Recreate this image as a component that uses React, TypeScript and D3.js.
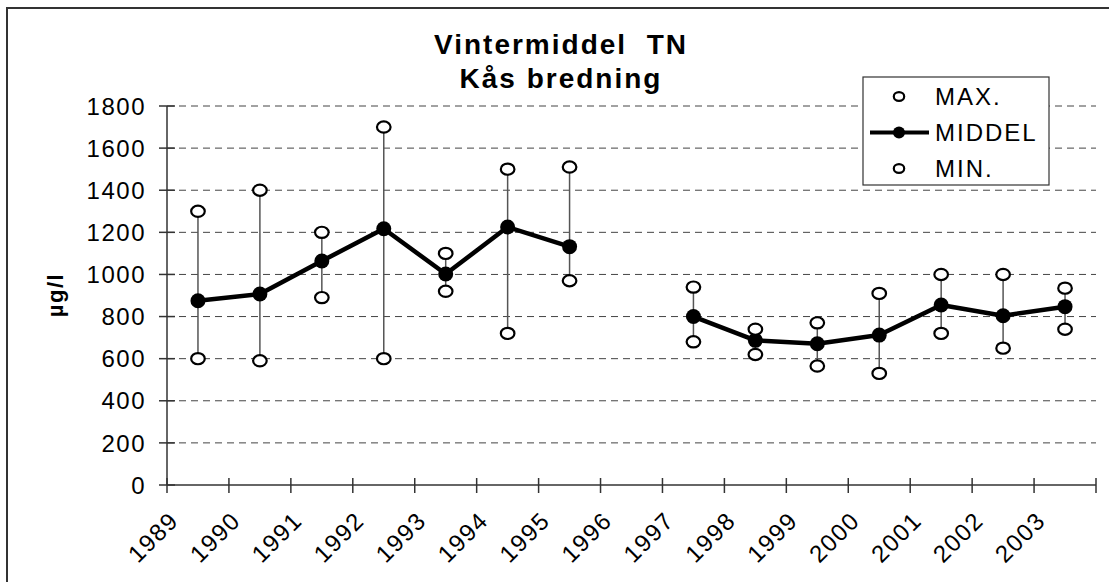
import React from "react";
import * as d3 from "d3";

const years = ["1989", "1990", "1991", "1992", "1993", "1994", "1995", "1996", "1997", "1998", "1999", "2000", "2001", "2002", "2003"];
const maxVals: (number | null)[] = [1300, 1400, 1200, 1700, 1100, 1500, 1510, null, 940, 740, 770, 910, 1000, 1000, 935];
const meanVals: (number | null)[] = [875, 907, 1064, 1217, 1002, 1225, 1132, null, 800, 687, 671, 712, 855, 804, 847];
const minVals: (number | null)[] = [600, 590, 890, 600, 920, 720, 970, null, 680, 620, 565, 530, 720, 650, 740];
const yTicks = [0, 200, 400, 600, 800, 1000, 1200, 1400, 1600, 1800];
const legendItems = ["MAX.", "MIDDEL", "MIN."];
const titleLines = ["Vintermiddel  TN", "Kås bredning"];
const yLabel = "µg/l";

const W = 1109;
const H = 582;
const FONT = "'Liberation Sans', Arial, sans-serif";

export default function App() {
  const x = d3.scaleBand<string>().domain(years).range([167, 1096]).padding(0);
  const y = d3.scaleLinear().domain([0, 1800]).range([485, 106]);
  const cx = (yr: string) => (x(yr) as number) + x.bandwidth() / 2;

  const line = d3
    .line<number | null>()
    .defined((d) => d != null)
    .x((_, i) => cx(years[i]))
    .y((d) => y(d as number));

  const boundaries = years.map((yr) => x(yr) as number).concat([1096]);

  return (
    <div style={{ position: "absolute", left: 0, top: 0 }}>
      <svg width={W} height={H} style={{ display: "block", background: "#fff" }} fontFamily={FONT}>
        <rect x={7} y={8} width={W + 20} height={H + 20} fill="#fff" stroke="#333" strokeWidth={2} />

        {/* gridlines */}
        {yTicks.filter((t) => t > 0).map((t) => (
          <line key={"g" + t} x1={167} x2={1096} y1={y(t)} y2={y(t)} stroke="#444" strokeWidth={1} strokeDasharray="7,5" />
        ))}

        {/* axes */}
        <line x1={167} x2={167} y1={y(1800)} y2={y(0)} stroke="#333" strokeWidth={1.5} />
        <line x1={167} x2={1096} y1={y(0)} y2={y(0)} stroke="#333" strokeWidth={1.5} />
        {yTicks.map((t) => (
          <g key={"yt" + t}>
            <line x1={159} x2={175} y1={y(t)} y2={y(t)} stroke="#333" strokeWidth={1.5} />
            <text x={146} y={y(t)} dy="0.36em" textAnchor="end" fontSize={24} letterSpacing={1.5} fill="#000">
              {t}
            </text>
          </g>
        ))}
        {boundaries.map((b, i) => (
          <line key={"xt" + i} x1={b} x2={b} y1={478} y2={493} stroke="#333" strokeWidth={1.5} />
        ))}
        {years.map((yr) => (
          <text
            key={"xl" + yr}
            transform={`translate(${cx(yr) - 18},${522}) rotate(-45)`}
            textAnchor="end"
            fontSize={24}
            letterSpacing={1.5}
            fill="#000"
          >
            {yr}
          </text>
        ))}

        {/* y label */}
        <text
          transform={`translate(63,295) rotate(-90)`}
          textAnchor="middle"
          fontSize={22}
          fontWeight="bold"
          letterSpacing={1.5}
          fill="#000"
        >
          {yLabel}
        </text>

        {/* title */}
        {titleLines.map((t, i) => (
          <text
            key={"t" + i}
            x={561}
            y={54 + i * 33.5}
            textAnchor="middle"
            fontSize={28}
            fontWeight="bold"
            letterSpacing={2}
            fill="#000"
            style={{ whiteSpace: "pre" }}
          >
            {t}
          </text>
        ))}

        {/* range lines */}
        {years.map((yr, i) =>
          maxVals[i] != null && minVals[i] != null ? (
            <line key={"r" + yr} x1={cx(yr)} x2={cx(yr)} y1={y(maxVals[i] as number)} y2={y(minVals[i] as number)} stroke="#555" strokeWidth={1.5} />
          ) : null
        )}

        {/* mean line */}
        <path d={line(meanVals) || ""} fill="none" stroke="#000" strokeWidth={4.5} strokeLinejoin="round" />
        {years.map((yr, i) =>
          meanVals[i] != null ? <circle key={"m" + yr} cx={cx(yr)} cy={y(meanVals[i] as number)} r={7.5} fill="#000" /> : null
        )}
        {years.map((yr, i) =>
          maxVals[i] != null ? (
            <ellipse key={"mx" + yr} cx={cx(yr)} cy={y(maxVals[i] as number)} rx={6.8} ry={5.6} fill="#fff" stroke="#000" strokeWidth={2.2} />
          ) : null
        )}
        {years.map((yr, i) =>
          minVals[i] != null ? (
            <ellipse key={"mn" + yr} cx={cx(yr)} cy={y(minVals[i] as number)} rx={6.8} ry={5.6} fill="#fff" stroke="#000" strokeWidth={2.2} />
          ) : null
        )}

        {/* legend */}
        <g>
          <rect x={863} y={77} width={186} height={108} fill="#fff" stroke="#333" strokeWidth={1.2} />
          {legendItems.map((name, i) => {
            const ly = 96.5 + i * 36;
            return (
              <g key={"lg" + name}>
                {i === 1 ? (
                  <>
                    <line x1={870} x2={929} y1={ly} y2={ly} stroke="#000" strokeWidth={4} />
                    <circle cx={899} cy={ly} r={6} fill="#000" />
                  </>
                ) : (
                  <ellipse cx={899} cy={ly} rx={5.2} ry={4.4} fill="#fff" stroke="#000" strokeWidth={2.2} />
                )}
                <text x={935} y={ly} dy="0.36em" fontSize={24} letterSpacing={2} fill="#000">
                  {name}
                </text>
              </g>
            );
          })}
        </g>
      </svg>
    </div>
  );
}
